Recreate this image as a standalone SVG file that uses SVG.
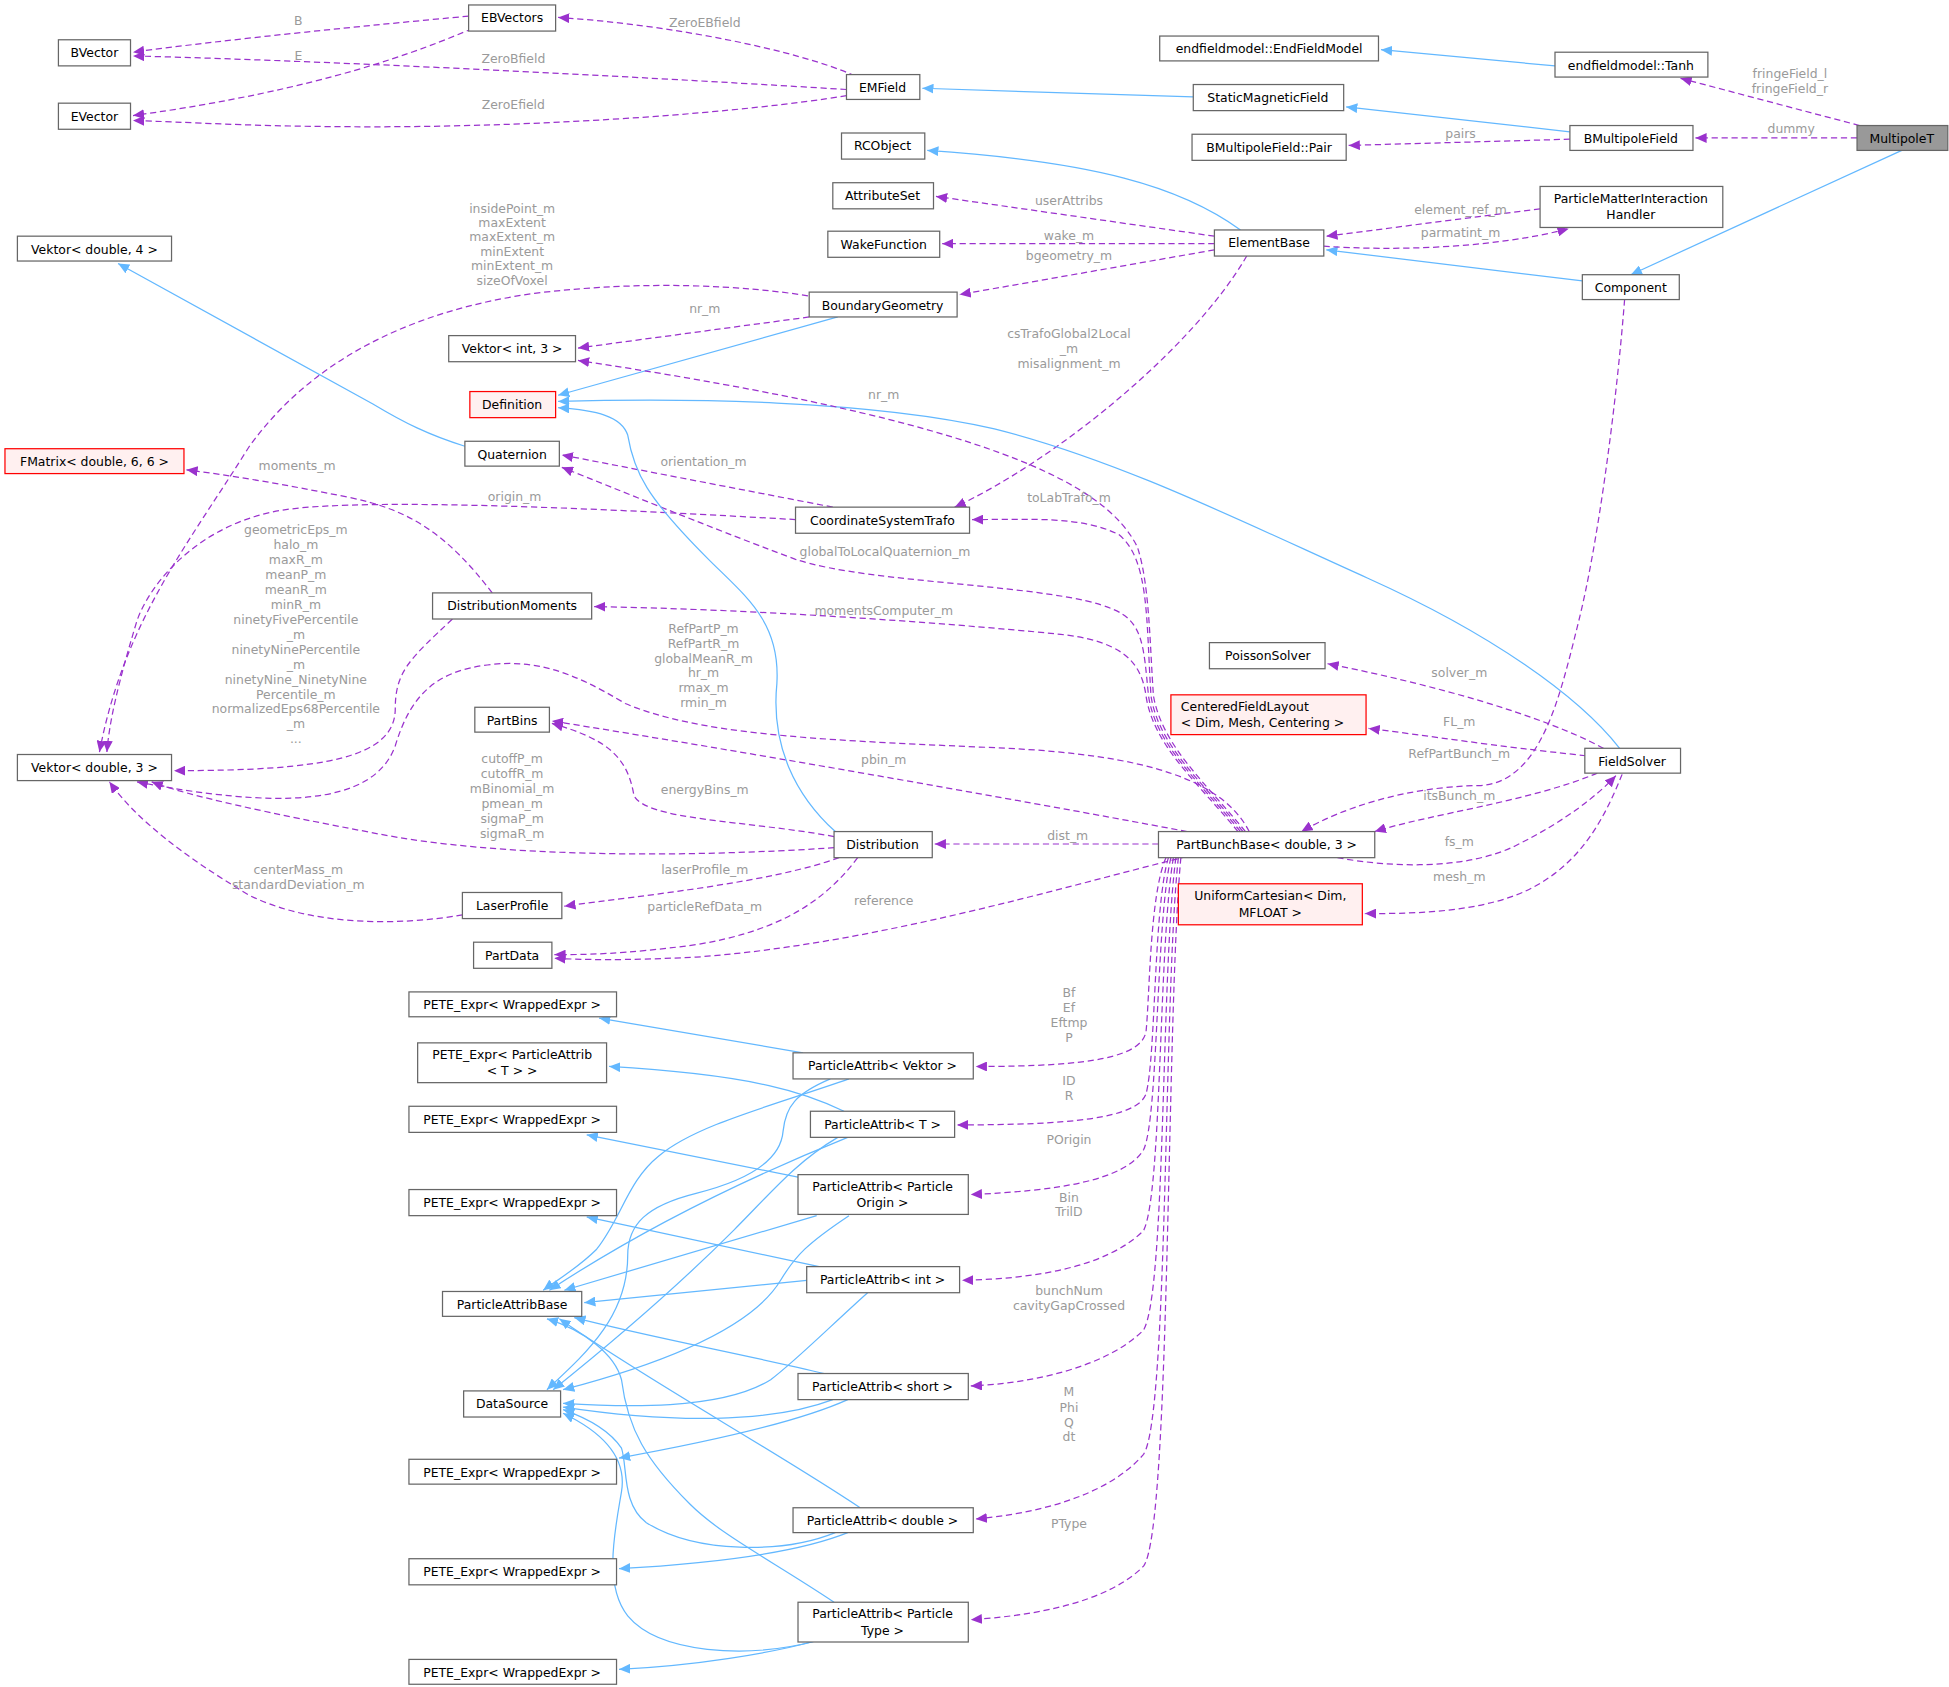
<svg xmlns="http://www.w3.org/2000/svg" width="1949" height="1687" viewBox="0 0 1949 1687">
<style>
.n rect{fill:#fff;stroke:#666;stroke-width:1}
.n.r rect{fill:#fff0f0;stroke:#ff0000}
.n.g rect{fill:#999;stroke:#666}
.n text{font-family:"DejaVu Sans",sans-serif;font-size:10px;fill:#000;text-anchor:middle}
.d{fill:none;stroke:#9a32cd;stroke-width:1;stroke-dasharray:5,3;marker-end:url(#ap)}
.b{fill:none;stroke:#63b8ff;stroke-width:1;marker-end:url(#ab)}
.l{font-family:"DejaVu Sans",sans-serif;font-size:10px;fill:#9a9a9a;text-anchor:middle}
</style>
<defs>
<marker id="ap" markerUnits="userSpaceOnUse" markerWidth="10" markerHeight="8" refX="9" refY="4" orient="auto"><path d="M0,0 L9,4 L0,8 z" fill="#9a32cd"/></marker>
<marker id="ab" markerUnits="userSpaceOnUse" markerWidth="10" markerHeight="8" refX="9" refY="4" orient="auto"><path d="M0,0 L9,4 L0,8 z" fill="#63b8ff"/></marker>
</defs>
<rect width="1949" height="1687" fill="#fff"/>
<g transform="scale(1.243)">
<g id="connectors">
<path class="d" d="M377,13 C300,20 180,32 107,42"/>
<path class="d" d="M380,23 C340,40 260,72 107,93"/>
<path class="d" d="M688,61 C640,40 540,20 449,14"/>
<path class="d" d="M681,72 C550,64 300,50 107,45"/>
<path class="d" d="M681,77 C600,90 450,102 300,102 C200,102 150,98 107,97"/>
<path class="b" d="M960,78 L742,71"/>
<path class="b" d="M1251,53 L1111,40"/>
<path class="b" d="M1263,106 L1083,86"/>
<path class="d" d="M1263,112 L1085,117"/>
<path class="d" d="M1494,111 L1364,111"/>
<path class="d" d="M1496,101 L1352,63"/>
<path class="b" d="M1530,121 L1312,221"/>
<path class="b" d="M1273,226 L1067,201"/>
<path class="b" d="M998,185 C950,150 880,130 746,121"/>
<path class="d" d="M977,190 L753,158"/>
<path class="d" d="M977,196 L758,196"/>
<path class="d" d="M977,201 L772,237"/>
<path class="d" d="M1239,168 L1067,190"/>
<path class="d" d="M1065,198 C1120,202 1200,200 1262,184"/>
<path class="d" d="M1003,206 C960,280 850,370 768,408"/>
<path class="d" d="M650,238 C600,230 520,225 430,236 C330,250 250,290 200,360 C150,440 100,500 80,605"/>
<path class="d" d="M651,255 L465,280"/>
<path class="b" d="M674,255 L449,318"/>
<path class="b" d="M374,359 C345,350 325,340 300,325 L95,212"/>
<path class="d" d="M670,408 L452,366"/>
<path class="d" d="M640,418 C500,410 300,400 230,410 C160,420 120,470 110,500 C95,550 88,580 86,605"/>
<path class="d" d="M396,477 C360,430 330,410 280,400 C230,390 190,383 150,378"/>
<path class="d" d="M364,498 C330,530 318,540 318,570 C318,610 260,620 140,620"/>
<path class="b" d="M1303,602 C1270,560 1200,510 1100,465 C1000,420 900,370 800,345 C700,322 550,320 449,323"/>
<path class="d" d="M1002,669 C970,630 935,600 928,560 C925,520 925,470 915,440 C890,390 800,340 465,290"/>
<path class="d" d="M1000,669 C968,630 932,600 926,560 C922,500 925,450 900,430 C870,415 830,418 782,418"/>
<path class="d" d="M998,669 C966,630 930,600 924,560 C920,520 920,500 895,490 C850,470 700,470 640,450 C560,420 500,395 452,376"/>
<path class="d" d="M996,669 C964,630 928,600 922,560 C918,530 900,515 850,510 C750,500 600,490 478,488"/>
<path class="d" d="M1005,669 C980,620 900,605 788,601 C650,595 560,590 503,566 C460,540 430,530 392,535 C350,540 330,560 318,600 C300,650 220,650 110,629"/>
<path class="d" d="M955,669 C800,640 600,605 444,580"/>
<path class="d" d="M671,673 C600,660 520,660 510,640 C505,610 490,595 444,582"/>
<path class="d" d="M671,682 C550,690 400,690 300,670 C220,655 150,640 122,629"/>
<path class="b" d="M672,669 C640,640 620,600 625,550 C628,500 600,480 570,450 C520,400 510,380 505,350 C500,335 480,330 449,328"/>
<path class="d" d="M932,679 L752,679"/>
<path class="d" d="M675,690 C620,710 520,720 454,729"/>
<path class="d" d="M690,690 C660,730 620,750 560,760 C500,768 470,768 446,768"/>
<path class="d" d="M372,736 C320,745 250,745 200,720 C150,690 110,660 88,629"/>
<path class="d" d="M955,689 C850,715 700,760 560,770 C500,773 470,772 446,771"/>
<path class="d" d="M1307,241 C1300,330 1285,440 1270,500 C1255,560 1240,630 1190,632 C1130,633 1080,650 1047,669"/>
<path class="d" d="M1290,602 C1240,575 1150,550 1068,534"/>
<path class="d" d="M1276,608 C1200,600 1150,592 1101,586"/>
<path class="d" d="M1285,622 C1230,645 1150,655 1106,669"/>
<path class="d" d="M1076,690 C1120,698 1180,700 1220,680 C1260,660 1285,640 1300,624"/>
<path class="d" d="M1305,623 C1290,660 1270,700 1220,720 C1180,735 1130,735 1098,735"/>
<path class="d" d="M938,690 C925,720 925,800 922,830 C918,850 880,858 785,858"/>
<path class="d" d="M940,690 C928,730 930,850 922,880 C915,900 860,905 770,905"/>
<path class="d" d="M942,690 C930,740 932,900 920,925 C905,950 850,958 781,961"/>
<path class="d" d="M944,690 C932,760 935,960 920,990 C890,1020 830,1029 774,1030"/>
<path class="d" d="M946,690 C934,780 938,1040 920,1070 C890,1100 830,1113 781,1115"/>
<path class="d" d="M948,690 C936,800 940,1140 920,1170 C890,1205 830,1218 785,1222"/>
<path class="d" d="M950,690 C938,820 942,1230 920,1260 C890,1290 830,1300 781,1303"/>
<path class="b" d="M646,847 L482,819"/>
<path class="b" d="M683,868 C620,890 560,905 530,930 C505,950 500,980 480,1005 C465,1020 448,1030 437,1038"/>
<path class="b" d="M668,868 C640,880 632,890 630,910 C628,935 600,950 560,960 C520,970 505,985 505,1010 C505,1060 470,1090 440,1118"/>
<path class="b" d="M679,894 C650,880 610,865 490,858"/>
<path class="b" d="M682,915 C620,940 530,980 442,1038"/>
<path class="b" d="M674,915 C640,935 620,960 590,990 C540,1040 480,1090 445,1118"/>
<path class="b" d="M642,947 L472,913"/>
<path class="b" d="M657,978 L454,1038"/>
<path class="b" d="M683,978 C650,1000 640,1010 628,1030 C610,1060 560,1090 453,1118"/>
<path class="b" d="M659,1019 L472,979"/>
<path class="b" d="M649,1030 L470,1048"/>
<path class="b" d="M698,1040 C670,1065 640,1095 620,1110 C580,1135 500,1132 453,1129"/>
<path class="b" d="M663,1105 C600,1090 520,1075 462,1060"/>
<path class="b" d="M670,1126 C620,1145 540,1145 453,1132"/>
<path class="b" d="M682,1126 C640,1145 570,1160 498,1173"/>
<path class="b" d="M692,1213 C620,1165 520,1110 450,1061"/>
<path class="b" d="M672,1233 C630,1250 560,1250 520,1225 C500,1210 505,1180 500,1165 C490,1150 470,1140 453,1134"/>
<path class="b" d="M682,1233 C640,1250 570,1258 498,1262"/>
<path class="b" d="M671,1289 C620,1255 580,1235 555,1210 C520,1175 505,1150 500,1110 C495,1090 470,1070 440,1061"/>
<path class="b" d="M657,1320 C600,1335 530,1330 505,1300 C485,1275 495,1230 500,1200 C505,1170 480,1150 453,1137"/>
<path class="b" d="M657,1320 C620,1330 560,1340 498,1343"/>
<g id="edge-labels">
<text class="l" x="240" y="20">B</text>
<text class="l" x="240" y="48">E</text>
<text class="l" x="567" y="22">ZeroEBfield</text>
<text class="l" x="413" y="51">ZeroBfield</text>
<text class="l" x="413" y="88">ZeroEfield</text>
<text class="l" x="1440" y="63">fringeField_l</text>
<text class="l" x="1440" y="75">fringeField_r</text>
<text class="l" x="1441" y="107">dummy</text>
<text class="l" x="1175" y="111">pairs</text>
<text class="l" x="860" y="165">userAttribs</text>
<text class="l" x="860" y="193">wake_m</text>
<text class="l" x="860" y="209">bgeometry_m</text>
<text class="l" x="1175" y="172">element_ref_m</text>
<text class="l" x="1175" y="191">parmatint_m</text>
<text class="l" x="860" y="272">csTrafoGlobal2Local</text>
<text class="l" x="860" y="284">_m</text>
<text class="l" x="860" y="296">misalignment_m</text>
<text class="l" x="412" y="171">insidePoint_m</text>
<text class="l" x="412" y="183">maxExtent</text>
<text class="l" x="412" y="194">maxExtent_m</text>
<text class="l" x="412" y="206">minExtent</text>
<text class="l" x="412" y="217">minExtent_m</text>
<text class="l" x="412" y="229">sizeOfVoxel</text>
<text class="l" x="567" y="252">nr_m</text>
<text class="l" x="711" y="321">nr_m</text>
<text class="l" x="566" y="375">orientation_m</text>
<text class="l" x="239" y="378">moments_m</text>
<text class="l" x="414" y="403">origin_m</text>
<text class="l" x="860" y="404">toLabTrafo_m</text>
<text class="l" x="712" y="447">globalToLocalQuaternion_m</text>
<text class="l" x="711" y="495">momentsComputer_m</text>
<text class="l" x="238" y="430">geometricEps_m</text>
<text class="l" x="238" y="442">halo_m</text>
<text class="l" x="238" y="454">maxR_m</text>
<text class="l" x="238" y="466">meanP_m</text>
<text class="l" x="238" y="478">meanR_m</text>
<text class="l" x="238" y="490">minR_m</text>
<text class="l" x="238" y="502">ninetyFivePercentile</text>
<text class="l" x="238" y="514">_m</text>
<text class="l" x="238" y="526">ninetyNinePercentile</text>
<text class="l" x="238" y="538">_m</text>
<text class="l" x="238" y="550">ninetyNine_NinetyNine</text>
<text class="l" x="238" y="562">Percentile_m</text>
<text class="l" x="238" y="574">normalizedEps68Percentile</text>
<text class="l" x="238" y="586">_m</text>
<text class="l" x="238" y="598">...</text>
<text class="l" x="566" y="509">RefPartP_m</text>
<text class="l" x="566" y="521">RefPartR_m</text>
<text class="l" x="566" y="533">globalMeanR_m</text>
<text class="l" x="566" y="545">hr_m</text>
<text class="l" x="566" y="557">rmax_m</text>
<text class="l" x="566" y="569">rmin_m</text>
<text class="l" x="711" y="615">pbin_m</text>
<text class="l" x="567" y="639">energyBins_m</text>
<text class="l" x="412" y="614">cutoffP_m</text>
<text class="l" x="412" y="626">cutoffR_m</text>
<text class="l" x="412" y="638">mBinomial_m</text>
<text class="l" x="412" y="650">pmean_m</text>
<text class="l" x="412" y="662">sigmaP_m</text>
<text class="l" x="412" y="674">sigmaR_m</text>
<text class="l" x="240" y="703">centerMass_m</text>
<text class="l" x="240" y="715">standardDeviation_m</text>
<text class="l" x="567" y="703">laserProfile_m</text>
<text class="l" x="567" y="733">particleRefData_m</text>
<text class="l" x="711" y="728">reference</text>
<text class="l" x="859" y="676">dist_m</text>
<text class="l" x="1174" y="545">solver_m</text>
<text class="l" x="1174" y="584">FL_m</text>
<text class="l" x="1174" y="610">RefPartBunch_m</text>
<text class="l" x="1174" y="644">itsBunch_m</text>
<text class="l" x="1174" y="681">fs_m</text>
<text class="l" x="1174" y="709">mesh_m</text>
<text class="l" x="860" y="802">Bf</text>
<text class="l" x="860" y="814">Ef</text>
<text class="l" x="860" y="826">Eftmp</text>
<text class="l" x="860" y="838">P</text>
<text class="l" x="860" y="873">ID</text>
<text class="l" x="860" y="885">R</text>
<text class="l" x="860" y="920">POrigin</text>
<text class="l" x="860" y="967">Bin</text>
<text class="l" x="860" y="978">TrilD</text>
<text class="l" x="860" y="1042">bunchNum</text>
<text class="l" x="860" y="1054">cavityGapCrossed</text>
<text class="l" x="860" y="1123">M</text>
<text class="l" x="860" y="1136">Phi</text>
<text class="l" x="860" y="1148">Q</text>
<text class="l" x="860" y="1159">dt</text>
<text class="l" x="860" y="1229">PType</text>
</g>
</g>
<g id="EBVectors" class="n"><rect x="377" y="4" width="70" height="21"/><text x="412" y="18">EBVectors</text></g>
<g id="BVector" class="n"><rect x="47" y="32" width="58" height="21"/><text x="76" y="46">BVector</text></g>
<g id="EVector" class="n"><rect x="47" y="83" width="58" height="21"/><text x="76" y="97">EVector</text></g>
<g id="EMField" class="n"><rect x="681" y="60" width="59" height="20"/><text x="710" y="74">EMField</text></g>
<g id="EndFieldModel" class="n"><rect x="933" y="29" width="176" height="20"/><text x="1021" y="43">endfieldmodel::EndFieldModel</text></g>
<g id="Tanh" class="n"><rect x="1251" y="42" width="123" height="20"/><text x="1312" y="56">endfieldmodel::Tanh</text></g>
<g id="StaticMagneticField" class="n"><rect x="960" y="68" width="121" height="21"/><text x="1020" y="82">StaticMagneticField</text></g>
<g id="Pair" class="n"><rect x="959" y="108" width="124" height="21"/><text x="1021" y="122">BMultipoleField::Pair</text></g>
<g id="BMultipoleField" class="n"><rect x="1263" y="101" width="99" height="20"/><text x="1312" y="115">BMultipoleField</text></g>
<g id="MultipoleT" class="n g"><rect x="1494" y="101" width="73" height="20"/><text x="1530" y="115">MultipoleT</text></g>
<g id="RCObject" class="n"><rect x="677" y="107" width="67" height="21"/><text x="710" y="121">RCObject</text></g>
<g id="AttributeSet" class="n"><rect x="670" y="147" width="81" height="21"/><text x="710" y="161">AttributeSet</text></g>
<g id="WakeFunction" class="n"><rect x="666" y="186" width="90" height="21"/><text x="711" y="200">WakeFunction</text></g>
<g id="ElementBase" class="n"><rect x="977" y="185" width="88" height="21"/><text x="1021" y="199">ElementBase</text></g>
<g id="PMIH" class="n"><rect x="1239" y="150" width="147" height="33"/><text x="1312" y="163">ParticleMatterInteraction</text><text x="1312" y="176">Handler</text></g>
<g id="Component" class="n"><rect x="1273" y="221" width="78" height="20"/><text x="1312" y="235">Component</text></g>
<g id="Vektor4" class="n"><rect x="14" y="190" width="124" height="20"/><text x="76" y="204">Vektor&lt; double, 4 &gt;</text></g>
<g id="BoundaryGeometry" class="n"><rect x="651" y="235" width="119" height="20"/><text x="710" y="249">BoundaryGeometry</text></g>
<g id="VektorInt3" class="n"><rect x="361" y="270" width="102" height="21"/><text x="412" y="284">Vektor&lt; int, 3 &gt;</text></g>
<g id="Definition" class="n r"><rect x="378" y="315" width="69" height="21"/><text x="412" y="329">Definition</text></g>
<g id="Quaternion" class="n"><rect x="374" y="355" width="76" height="20"/><text x="412" y="369">Quaternion</text></g>
<g id="FMatrix" class="n r"><rect x="4" y="361" width="144" height="20"/><text x="76" y="375">FMatrix&lt; double, 6, 6 &gt;</text></g>
<g id="CoordinateSystemTrafo" class="n"><rect x="640" y="408" width="140" height="21"/><text x="710" y="422">CoordinateSystemTrafo</text></g>
<g id="DistributionMoments" class="n"><rect x="348" y="477" width="128" height="21"/><text x="412" y="491">DistributionMoments</text></g>
<g id="PoissonSolver" class="n"><rect x="973" y="517" width="93" height="21"/><text x="1020" y="531">PoissonSolver</text></g>
<g id="CenteredFieldLayout" class="n r"><rect x="942" y="559" width="157" height="32"/><text x="950" y="572" style="text-anchor:start">CenteredFieldLayout</text><text x="950" y="585" style="text-anchor:start">&lt; Dim, Mesh, Centering &gt;</text></g>
<g id="FieldSolver" class="n"><rect x="1275" y="602" width="77" height="20"/><text x="1313" y="616">FieldSolver</text></g>
<g id="PartBins" class="n"><rect x="382" y="569" width="60" height="20"/><text x="412" y="583">PartBins</text></g>
<g id="Vektor3" class="n"><rect x="14" y="607" width="124" height="21"/><text x="76" y="621">Vektor&lt; double, 3 &gt;</text></g>
<g id="Distribution" class="n"><rect x="671" y="669" width="79" height="21"/><text x="710" y="683">Distribution</text></g>
<g id="PartBunchBase" class="n"><rect x="932" y="669" width="174" height="21"/><text x="1019" y="683">PartBunchBase&lt; double, 3 &gt;</text></g>
<g id="UniformCartesian" class="n r"><rect x="948" y="711" width="148" height="33"/><text x="1022" y="724">UniformCartesian&lt; Dim,</text><text x="1022" y="738">MFLOAT &gt;</text></g>
<g id="LaserProfile" class="n"><rect x="372" y="718" width="80" height="21"/><text x="412" y="732">LaserProfile</text></g>
<g id="PartData" class="n"><rect x="381" y="758" width="63" height="21"/><text x="412" y="772">PartData</text></g>
<g id="PETE1" class="n"><rect x="329" y="798" width="167" height="20"/><text x="412" y="812">PETE_Expr&lt; WrappedExpr &gt;</text></g>
<g id="PETE_T" class="n"><rect x="336" y="839" width="152" height="32"/><text x="412" y="852">PETE_Expr&lt; ParticleAttrib</text><text x="412" y="865">&lt; T &gt; &gt;</text></g>
<g id="PA_Vektor" class="n"><rect x="638" y="847" width="145" height="21"/><text x="710" y="861">ParticleAttrib&lt; Vektor &gt;</text></g>
<g id="PETE3" class="n"><rect x="329" y="890" width="167" height="21"/><text x="412" y="904">PETE_Expr&lt; WrappedExpr &gt;</text></g>
<g id="PA_T" class="n"><rect x="652" y="894" width="116" height="21"/><text x="710" y="908">ParticleAttrib&lt; T &gt;</text></g>
<g id="PA_Origin" class="n"><rect x="642" y="945" width="137" height="32"/><text x="710" y="958">ParticleAttrib&lt; Particle</text><text x="710" y="971">Origin &gt;</text></g>
<g id="PETE4" class="n"><rect x="329" y="957" width="167" height="21"/><text x="412" y="971">PETE_Expr&lt; WrappedExpr &gt;</text></g>
<g id="PA_int" class="n"><rect x="649" y="1019" width="123" height="21"/><text x="710" y="1033">ParticleAttrib&lt; int &gt;</text></g>
<g id="ParticleAttribBase" class="n"><rect x="356" y="1039" width="112" height="20"/><text x="412" y="1053">ParticleAttribBase</text></g>
<g id="DataSource" class="n"><rect x="373" y="1119" width="78" height="21"/><text x="412" y="1133">DataSource</text></g>
<g id="PA_short" class="n"><rect x="642" y="1105" width="137" height="21"/><text x="710" y="1119">ParticleAttrib&lt; short &gt;</text></g>
<g id="PETE5" class="n"><rect x="329" y="1174" width="167" height="20"/><text x="412" y="1188">PETE_Expr&lt; WrappedExpr &gt;</text></g>
<g id="PA_double" class="n"><rect x="638" y="1213" width="145" height="20"/><text x="710" y="1227">ParticleAttrib&lt; double &gt;</text></g>
<g id="PETE6" class="n"><rect x="329" y="1254" width="167" height="21"/><text x="412" y="1268">PETE_Expr&lt; WrappedExpr &gt;</text></g>
<g id="PA_Type" class="n"><rect x="642" y="1289" width="137" height="32"/><text x="710" y="1302">ParticleAttrib&lt; Particle</text><text x="710" y="1315">Type &gt;</text></g>
<g id="PETE7" class="n"><rect x="329" y="1335" width="167" height="20"/><text x="412" y="1349">PETE_Expr&lt; WrappedExpr &gt;</text></g>
</g>
</svg>
